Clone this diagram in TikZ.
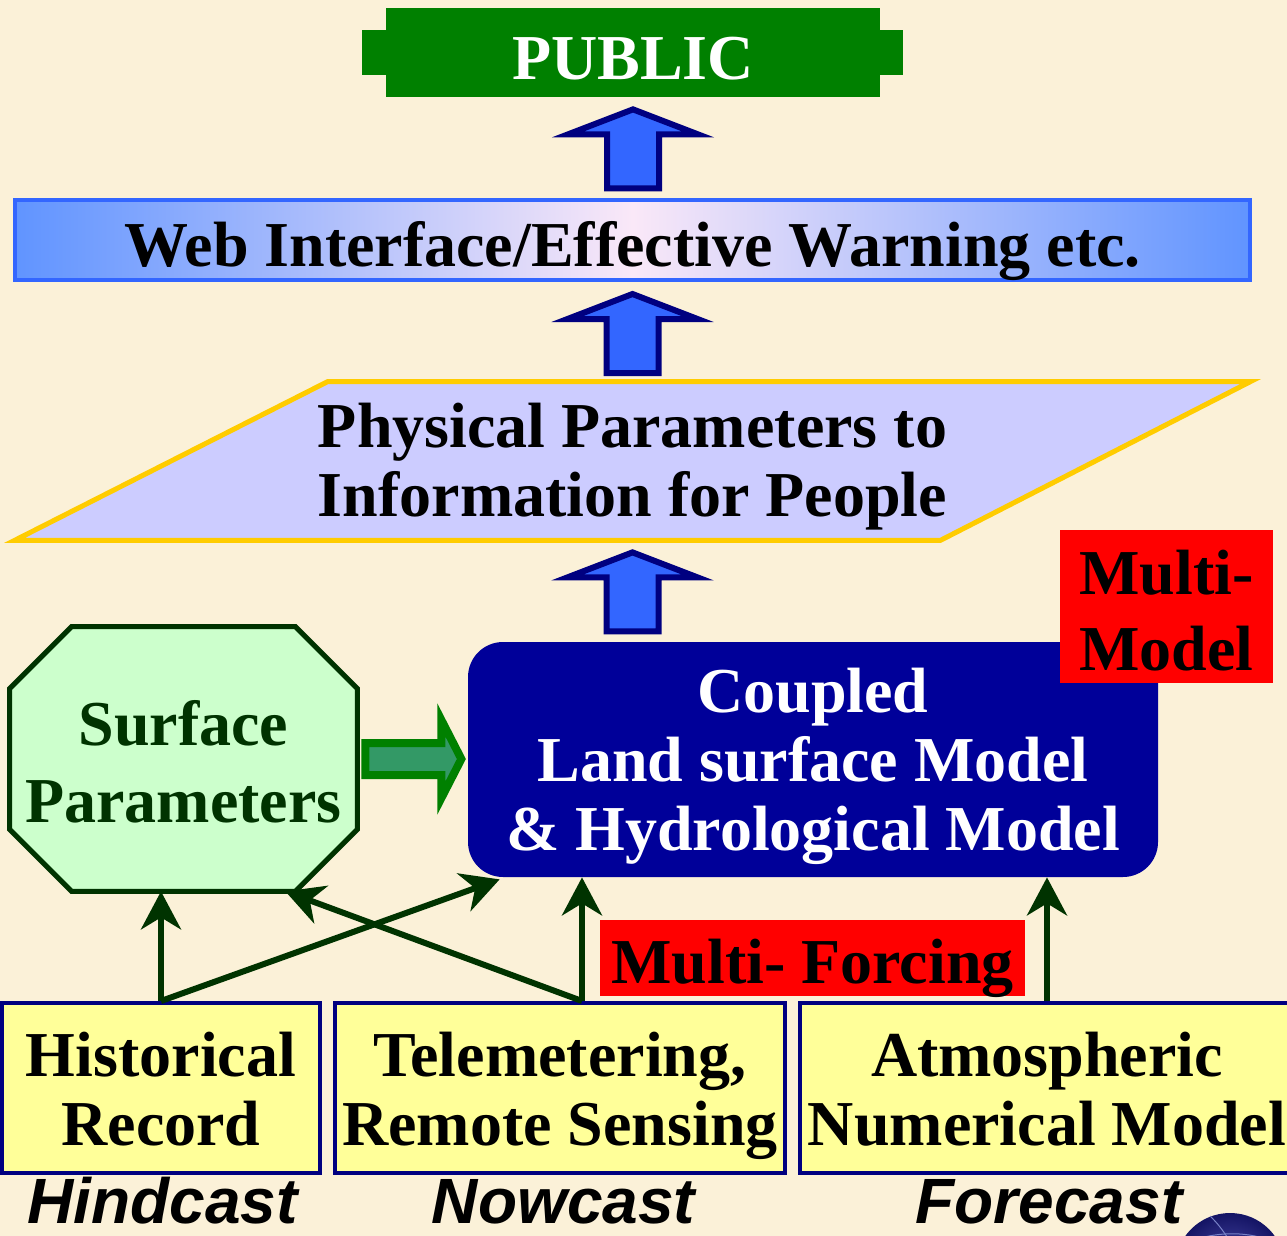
\documentclass[tikz,border=0pt]{standalone}
\usepackage{fontspec}
\setmainfont{Liberation Serif}
\newfontfamily\labfont{Liberation Sans}
\usetikzlibrary{arrows.meta,calc}
\pgfdeclarelayer{bg}
\pgfsetlayers{bg,main}
\tikzset{every picture/.style={line width=0.75pt}}
\tikzset{
  box/.style={inner sep=0, text depth=0pt, align=center, font=\bfseries\fontsize{64}{69}\selectfont},
  inbox/.style={box, fill={rgb, 255:red, 255; green, 255; blue, 153}, draw={rgb, 255:red, 0; green, 0; blue, 128}, line width=4, minimum height=170, text height=114pt},
  redbox/.style={box, fill={rgb, 255:red, 255; green, 0; blue, 0}},
  caselab/.style={inner sep=0, text depth=0pt, font=\labfont\bfseries\itshape\fontsize{64}{69}\selectfont},
  conn/.style={draw={rgb, 255:red, 0; green, 51; blue, 0}, line width=6, -{Stealth[length=38pt,width=40pt,inset=12pt]}},
  blkup/.style={fill={rgb, 255:red, 51; green, 102; blue, 255}, draw={rgb, 255:red, 0; green, 0; blue, 128}, line width=6},
  grnarrow/.style={fill={rgb, 255:red, 51; green, 153; blue, 102}, draw={rgb, 255:red, 0; green, 128; blue, 0}, line width=8}
}
\begin{document}
\begin{tikzpicture}[x=1pt,y=1pt,yscale=-1,xscale=1]
		\useasboundingbox (0,0) rectangle (1287,1236);
		\clip (0,0) rectangle (1287,1236);
		
		%Shape: Rectangle [public]
		\node[box, fill={rgb, 255:red, 0; green, 128; blue, 0}, text=white, text height=55pt, minimum width=494, minimum height=89] (public) at (633,52.5) {PUBLIC};
		%Shape: Rectangle [web]
		\node[box, left color={rgb, 255:red, 96; green, 148; blue, 255}, right color={rgb, 255:red, 96; green, 148; blue, 255}, middle color={rgb, 255:red, 250; green, 232; blue, 248}, draw={rgb, 255:red, 51; green, 102; blue, 255}, line width=4, text height=52pt, minimum width=1235, minimum height=80] (web) at (632.5,240) {Web Interface/Effective Warning etc.};
		%Shape: Parallelogram [phys]
		\node[box, text height=110pt, minimum width=1235, minimum height=158] (phys) at (632.5,461) {Physical Parameters to\\Information for People};
		
		%Shape: Rounded Rect [coupled]
		\node[box, fill={rgb, 255:red, 0; green, 0; blue, 153}, text=white, text height=181pt, rounded corners=35, minimum width=690, minimum height=235] (coupled) at (813,759.5) {Coupled\\Land surface Model\\\& Hydrological Model};
		\node[redbox, text height=127pt, minimum width=213, minimum height=153] (multimodel) at (1166.5,606.5) {Multi-\\[7pt]Model};
		%Shape: Octagon [surf]
		\node[box, text={rgb, 255:red, 0; green, 51; blue, 0}, text height=126pt, minimum width=347, minimum height=264] (surf) at (183.5,759) {Surface\\[8pt]Parameters};
		
		\node[redbox, text height=50pt, minimum width=425, minimum height=76] (multiforcing) at (812.5,958) {Multi- Forcing};
		
		%Shape: Rectangle [inputs]
		\node[inbox, minimum width=318] (hist) at (161,1088) {Historical\\Record};
		\node[inbox, minimum width=450] (tele) at (560,1088) {Telemetering,\\Remote Sensing};
		\node[inbox, minimum width=494] (atmos) at (1047,1088) {Atmospheric\\Numerical Model};
		
		\node[caselab, anchor=base] (hind) at (162.5,1223) {Hindcast};
		\node[caselab, anchor=base] (now) at (563.5,1223) {Nowcast};
		\node[caselab, anchor=base] (fore) at (1049,1223) {Forecast};
		
		%Block Arrows
		\foreach \hi in {public, web, phys}
		\draw[blkup] ($(\hi.south)+(0,12)$) -- ++(65,25) -- ++(-39,0) -- ++(0,54) -- ++(-52,0) -- ++(0,-54) -- ++(-39,0) -- cycle ;
		\draw[grnarrow] ($(surf.east)+(8,-16)$) -- ++(76,0) -- ++(0,-23) -- ++(20,39) -- ++(-20,39) -- ++(0,-23) -- ++(-76,0) -- cycle ;
		
		%Straight Lines
		\coordinate (teleout) at ($(tele.north)+(22,0)$);
		\draw[conn] (hist.north) -- (hist.north |- surf.south) ;
		\draw[conn] (hist.north) -- ($(coupled.south west)+(32,2)$) ;
		\draw[conn] (teleout) -- (teleout |- coupled.south) ;
		\draw[conn] (teleout) -- ($(surf.south east)+(-72,0)$) ;
		\draw[conn] (atmos.north) -- (atmos.north |- coupled.south) ;
		
		%Shape: Globe
		\shade[inner color={rgb, 255:red, 80; green, 80; blue, 175}, outer color={rgb, 255:red, 20; green, 20; blue, 100}] (1230,1268) circle (55) ;
		\draw[color={rgb, 255:red, 120; green, 130; blue, 200}, line width=1] (1180,1245) .. controls (1215,1230) and (1250,1230) .. (1282,1245) ;
		\draw[color={rgb, 255:red, 120; green, 130; blue, 200}, line width=1] (1210,1216) .. controls (1225,1230) and (1230,1245) .. (1232,1240) ;
		
		\begin{pgfonlayer}{bg}
		\fill[color={rgb, 255:red, 251; green, 241; blue, 216}] (0,0) rectangle (1287,1236) ;
		\fill[color={rgb, 255:red, 0; green, 128; blue, 0}] ($(public.west)+(-24,-22.5)$) rectangle ($(public.east)+(23,22.5)$) ;
		\draw[fill={rgb, 255:red, 204; green, 255; blue, 204}, draw={rgb, 255:red, 0; green, 51; blue, 0}, line width=5] ($(surf.north west)+(62,0)$) -- ($(surf.north east)+(-62,0)$) -- ($(surf.north east)+(0,62)$) -- ($(surf.south east)+(0,-62)$) -- ($(surf.south east)+(-62,0)$) -- ($(surf.south west)+(62,0)$) -- ($(surf.south west)+(0,-62)$) -- ($(surf.north west)+(0,62)$) -- cycle ;
		\draw[fill={rgb, 255:red, 204; green, 204; blue, 255}, draw={rgb, 255:red, 255; green, 204; blue, 0}, line width=5] (phys.south west) -- ($(phys.north west)+(313,0)$) -- (phys.north east) -- ($(phys.south east)+(-310,0)$) -- cycle ;
		\end{pgfonlayer}
		
\end{tikzpicture}
\end{document}
